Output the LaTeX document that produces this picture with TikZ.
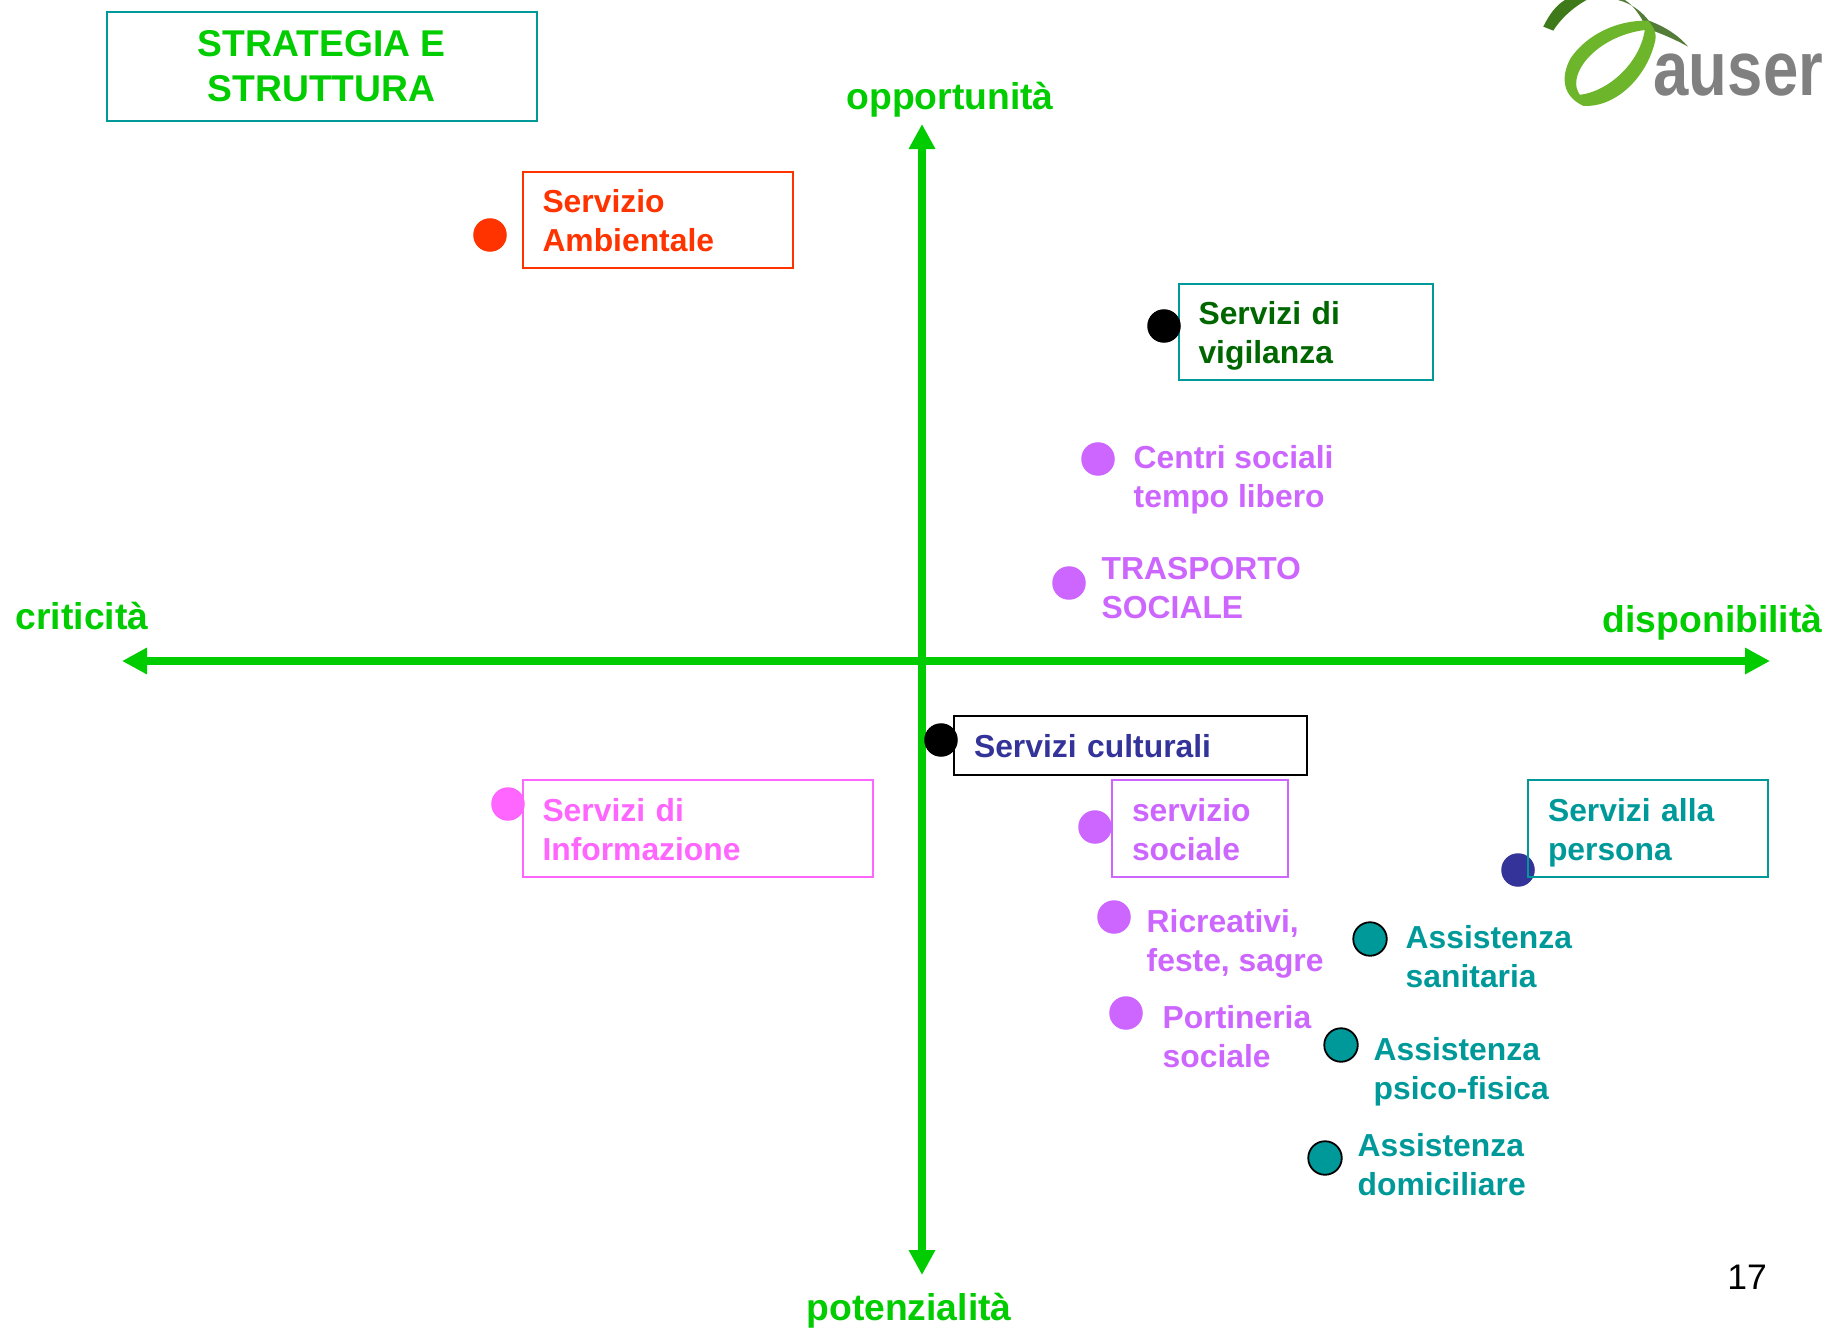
\documentclass[tikz,border=0pt]{standalone}
\usepackage{fontspec}
\setmainfont{Liberation Sans}
\usepackage{xcolor}
\usetikzlibrary{
    arrows.meta,
    positioning
}
\definecolor{axisgreen}{HTML}{00CC00}
\definecolor{tealserv}{HTML}{009999}
\definecolor{lilac}{HTML}{CC66FF}
\definecolor{redserv}{HTML}{FF3300}
\definecolor{darkserv}{HTML}{006600}
\definecolor{navyserv}{HTML}{333399}
\definecolor{pinkserv}{HTML}{FF66FF}
\definecolor{logolight}{HTML}{6DB52A}
\definecolor{logodark}{HTML}{3F7A1A}
\tikzset{
    axisline/.style={draw=axisgreen, line width=0.08cm, {Triangle[length=0.25cm,width=0.25cm]}-{Triangle[length=0.25cm,width=0.25cm]}},
    axislabel/.style={text=axisgreen, inner sep=0pt, font=\fontsize{10.6}{13}\selectfont\bfseries},
    servbox/.style={draw, line width=0.02cm, inner xsep=0.2cm, inner ysep=0pt, anchor=north west,
        align=left, font=\fontsize{9.05}{11.1}\selectfont\bfseries,
        execute at begin node={\rule{0pt}{0.41cm}}, execute at end node={\rule[-0.165cm]{0pt}{0pt}}},
    servtext/.style={inner sep=0pt, anchor=west, align=left, font=\fontsize{9.05}{11.1}\selectfont\bfseries},
    dot/.style={circle, inner sep=0pt, minimum size=0.335cm},
    ringdot/.style={dot, fill=tealserv, draw=black, line width=0.018cm}
}
\begin{document}
\begin{tikzpicture}[x=0.01cm, y=-0.01cm]
    \useasboundingbox (0, 0) rectangle (1827, 1327);

    \coordinate (top) at (922, 124);
    \coordinate (bottom) at (922, 1275);
    \coordinate (left) at (122, 661);
    \coordinate (right) at (1770, 661);
    \draw[axisline] (top) -- (bottom);
    \draw[axisline] (left) -- (right);

    \node[axislabel] (opp) at (950, 100) {opportunità};
    \node[axislabel] (pot) at (909, 1311) {potenzialità};
    \node[axislabel, anchor=west] (cri) at (15, 616) {criticità};
    \node[axislabel, anchor=east] (dis) at (1823, 623) {disponibilità};

    \node[draw=tealserv, line width=0.02cm, text=axisgreen, inner sep=0pt, minimum width=4.30cm, minimum height=1.09cm,
        anchor=north west, align=center, font=\fontsize{10.6}{12.8}\selectfont\bfseries] (title) at (105.5, 11) {STRATEGIA E\\STRUTTURA};

    \node[dot, fill=navyserv] (d0) at (1518, 870) {};
    \node[servbox, draw=tealserv, text=tealserv, text width=1.995cm] (persona) at (1527, 779) {Servizi alla\\persona};

    \node[servbox, draw=redserv, text=redserv, text width=2.30cm] (amb) at (521.5, 170.5) {Servizio\\Ambientale};
    \node[dot, fill=redserv] (d1) at (490, 235) {};

    \node[servbox, draw=tealserv, text=darkserv, text width=2.145cm] (vig) at (1177.5, 282.5) {Servizi di\\vigilanza};
    \node[dot, fill=black] (d2) at (1164, 326) {};

    \node[dot, fill=lilac] (d3) at (1098, 459) {};
    \node[servtext, text=lilac] (cen) at (1133, 479.5) {Centri sociali\\tempo libero};

    \node[dot, fill=lilac] (d4) at (1069, 583) {};
    \node[servtext, text=lilac] (tra) at (1101, 588) {TRASPORTO\\SOCIALE};

    \node[servbox, draw=black, text=navyserv, text width=3.125cm, minimum height=0.59cm] (cul) at (953, 715) {Servizi culturali};
    \node[dot, fill=black] (d5) at (941, 740) {};

    \node[servbox, draw=pinkserv, text=pinkserv, text width=3.105cm] (inf) at (521.5, 779) {Servizi di\\Informazione};
    \node[dot, fill=pinkserv] (d6) at (508, 804) {};

    \node[servbox, draw=lilac, text=lilac, text width=1.355cm] (soc) at (1111, 779) {servizio\\sociale};
    \node[dot, fill=lilac] (d7) at (1095, 827) {};

    \node[dot, fill=lilac] (d8) at (1114, 917) {};
    \node[servtext, text=lilac] (ric) at (1146, 943.5) {Ricreativi,\\feste, sagre};

    \node[dot, fill=lilac] (d9) at (1126, 1013) {};
    \node[servtext, text=lilac] (por) at (1162, 1037) {Portineria\\sociale};

    \node[ringdot] (d10) at (1370, 939) {};
    \node[servtext, text=tealserv] (san) at (1405, 957) {Assistenza\\sanitaria};

    \node[ringdot] (d11) at (1341, 1045) {};
    \node[servtext, text=tealserv] (psi) at (1373, 1071.5) {Assistenza\\psico-fisica};

    \node[ringdot] (d12) at (1325, 1158) {};
    \node[servtext, text=tealserv] (dom) at (1357, 1165) {Assistenza\\domiciliare};

    \node[inner sep=0pt, font=\fontsize{10.1}{12}\selectfont] (num) at (1747, 1277) {17};

    \begin{scope}[shift={(1500, 0)}, x=0.00333cm, y=-0.00333cm]
        \fill[logodark] (130, 80) .. controls (150, 40) and (170, 15) .. (195, 0) -- (260, 0)
            .. controls (215, 25) and (180, 60) .. (160, 92) -- cycle;
        \fill[logodark!70!gray] (355, 0) .. controls (400, 12) and (430, 40) .. (447, 62)
            .. controls (495, 80) and (535, 105) .. (565, 140)
            .. controls (525, 118) and (490, 103) .. (440, 85)
            .. controls (425, 50) and (400, 15) .. (375, 0) -- cycle;
        \fill[even odd rule, logolight] (445, 62) .. controls (350, 60) and (260, 105) .. (212, 175)
            .. controls (180, 235) and (190, 290) .. (250, 318)
            .. controls (340, 325) and (440, 240) .. (467, 120)
            .. controls (470, 100) and (465, 85) .. (445, 62) -- cycle
            (435, 90) .. controls (360, 100) and (295, 135) .. (255, 185)
            .. controls (225, 225) and (222, 260) .. (240, 285)
            .. controls (325, 275) and (420, 190) .. (435, 90) -- cycle;
    \end{scope}
    \node[inner sep=0pt, anchor=base west, text=black!50, font=\fontsize{22}{24}\selectfont\bfseries] (logo) at (1653, 95) {\scalebox{0.82}[1]{auser}};
\end{tikzpicture}
\end{document}
